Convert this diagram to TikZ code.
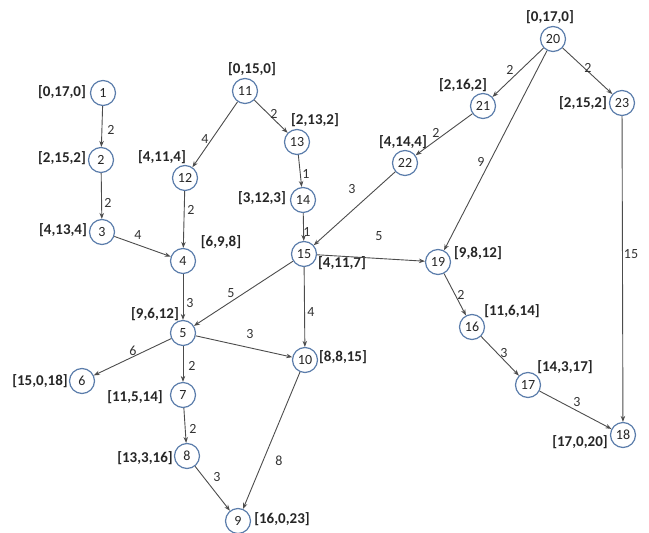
\documentclass[tikz,border=0pt]{standalone}
\usepackage{fontspec}
\setmainfont{Carlito}
\usetikzlibrary{arrows.meta}
\tikzset{
  vtx/.style={circle, draw=vtxblue, line width=1.2pt, fill=white,
    minimum size=25pt, inner sep=0pt, font=\fontsize{14}{14}\selectfont, text=black!85},
  tag/.style={font=\bfseries\fontsize{15}{15}\selectfont, text=black!85, inner sep=0pt},
  wt/.style={font=\fontsize{14}{14}\selectfont, text=black!80, inner sep=0pt},
  arc/.style={draw=black!70, line width=0.9pt, -{Stealth[length=6pt,width=4.5pt]}},
}
\definecolor{vtxblue}{HTML}{5B7DAB}
\begin{document}
\begin{tikzpicture}[x=1pt,y=-1pt]
\useasboundingbox (0,0) rectangle (649,533);
% vertices
\node[vtx] (n1)  at (103,93)  {1};
\node[vtx] (n2)  at (101,160) {2};
\node[vtx] (n3)  at (102,232) {3};
\node[vtx] (n4)  at (183,261) {4};
\node[vtx] (n5)  at (183,333) {5};
\node[vtx] (n6)  at (82,381)  {6};
\node[vtx] (n7)  at (183,395) {7};
\node[vtx] (n8)  at (187,456) {8};
\node[vtx] (n9)  at (238,521) {9};
\node[vtx] (n10) at (305,360) {10};
\node[vtx] (n11) at (245,91)  {11};
\node[vtx] (n12) at (185,178) {12};
\node[vtx] (n13) at (297,142) {13};
\node[vtx] (n14) at (303,200) {14};
\node[vtx] (n15) at (304,254) {15};
\node[vtx] (n16) at (472,327) {16};
\node[vtx] (n17) at (528,385) {17};
\node[vtx] (n18) at (623,435) {18};
\node[vtx] (n19) at (438,262) {19};
\node[vtx] (n20) at (553,39)  {20};
\node[vtx] (n21) at (483,106) {21};
\node[vtx] (n22) at (405,163) {22};
\node[vtx] (n23) at (622,103) {23};
% vertex tags
\node[tag] (t1)  at (62,92)   {[0,17,0]};
\node[tag] (t2)  at (62,158)  {[2,15,2]};
\node[tag] (t3)  at (63,230)  {[4,13,4]};
\node[tag] (t4)  at (221,242) {[6,9,8]};
\node[tag] (t5)  at (155,314) {[9,6,12]};
\node[tag] (t6)  at (40,381)  {[15,0,18]};
\node[tag] (t7)  at (135,397) {[11,5,14]};
\node[tag] (t8)  at (145,458) {[13,3,16]};
\node[tag] (t9)  at (282,519) {[16,0,23]};
\node[tag] (t10) at (343,357) {[8,8,15]};
\node[tag] (t11) at (252,69)  {[0,15,0]};
\node[tag] (t12) at (162,157) {[4,11,4]};
\node[tag] (t13) at (315,120) {[2,13,2]};
\node[tag] (t14) at (262,198) {[3,12,3]};
\node[tag] (t15) at (342,263) {[4,11,7]};
\node[tag] (t16) at (512,311) {[11,6,14]};
\node[tag] (t17) at (565,367) {[14,3,17]};
\node[tag] (t18) at (580,442) {[17,0,20]};
\node[tag] (t19) at (478,253) {[9,8,12]};
\node[tag] (t20) at (550,17)  {[0,17,0]};
\node[tag] (t21) at (463,85)  {[2,16,2]};
\node[tag] (t22) at (403,142) {[4,14,4]};
\node[tag] (t23) at (583,103) {[2,15,2]};
% arcs
\draw[arc] (n1) -- (n2);
\draw[arc] (n2) -- (n3);
\draw[arc] (n3) -- (n4);
\draw[arc] (n12) -- (n4);
\draw[arc] (n11) -- (n12);
\draw[arc] (n11) -- (n13);
\draw[arc] (n13) -- (n14);
\draw[arc] (n14) -- (n15);
\draw[arc] (n22) -- (n15);
\draw[arc] (n15) -- (n19);
\draw[arc] (n20) -- (n21);
\draw[arc] (n20) -- (n23);
\draw[arc] (n21) -- (n22);
\draw[arc] (n20) -- (n19);
\draw[arc] (n23) -- (n18);
\draw[arc] (n19) -- (n16);
\draw[arc] (n16) -- (n17);
\draw[arc] (n17) -- (n18);
\draw[arc] (n4) -- (n5);
\draw[arc] (n15) -- (n5);
\draw[arc] (n5) -- (n10);
\draw[arc] (n5) -- (n6);
\draw[arc] (n5) -- (n7);
\draw[arc] (n7) -- (n8);
\draw[arc] (n8) -- (n9);
\draw[arc] (n10) -- (n9);
\draw[arc] (n15) -- (n10);
% arc weights
\node[wt] (w1)  at (111,130) {2};
\node[wt] (w2)  at (108,203) {2};
\node[wt] (w3)  at (138,235) {4};
\node[wt] (w4)  at (191,210) {2};
\node[wt] (w5)  at (205,139) {4};
\node[wt] (w6)  at (274,114) {2};
\node[wt] (w7)  at (306,174) {1};
\node[wt] (w8)  at (307,232) {1};
\node[wt] (w9)  at (352,189) {3};
\node[wt] (w10) at (379,236) {5};
\node[wt] (w11) at (510,70)  {2};
\node[wt] (w12) at (588,68)  {2};
\node[wt] (w13) at (436,133) {2};
\node[wt] (w14) at (481,162) {9};
\node[wt] (w15) at (631,254) {15};
\node[wt] (w16) at (461,295) {2};
\node[wt] (w17) at (504,353) {3};
\node[wt] (w18) at (577,402) {3};
\node[wt] (w19) at (190,303) {3};
\node[wt] (w20) at (231,293) {5};
\node[wt] (w21) at (250,334) {3};
\node[wt] (w22) at (133,351) {6};
\node[wt] (w23) at (192,366) {2};
\node[wt] (w24) at (193,429) {2};
\node[wt] (w25) at (217,477) {3};
\node[wt] (w26) at (279,461) {8};
\node[wt] (w27) at (311,312) {4};
\end{tikzpicture}
\end{document}
